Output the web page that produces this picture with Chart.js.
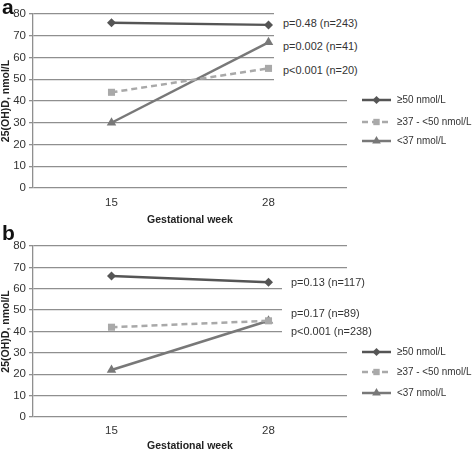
<!DOCTYPE html>
<html>
<head>
<meta charset="utf-8">
<script src="https://cdn.jsdelivr.net/npm/chart.js@4/dist/chart.umd.min.js"></script>
<style>
  html, body { margin: 0; padding: 0; background: #fff; }
  #wrap { position: relative; width: 472px; height: 451px; overflow: hidden; font-family: "Liberation Sans", Arial, sans-serif; }
  canvas { position: absolute; left: 0; }
  .panel-label { position: absolute; left: 2px; font: bold 21px "Liberation Sans", Arial, sans-serif; color: #111; line-height: 1; }
  .notes { position: absolute; background: #fff; }
  .notes div { position: absolute; white-space: nowrap; font-size: 11.5px; color: #333; line-height: 14px; transform: scaleX(0.95); transform-origin: left center; }
</style>
</head>
<body>
<div id="wrap">
  <canvas id="chartA" width="472" height="225" style="top:0"></canvas>
  <canvas id="chartB" width="472" height="226" style="top:225px"></canvas>
  <div class="panel-label" style="top:-4px">a</div>
  <div class="panel-label" style="top:222px">b</div>
  <div class="notes" id="notesA" style="left:274px; top:8px; width:110px; height:76px;"></div>
  <div class="notes" id="notesB" style="left:282px; top:276px; width:120px; height:62px;"></div>
</div>
<script>
const weeks = ["15", "28"];
const seriesLabels = ["\u226550 nmol/L", "\u226537 - <50 nmol/L", "<37 nmol/L"];

// panel a
const aHigh = [76, 75];
const aMid = [44, 55];
const aLow = [30, 67];
const aNotes = ["p=0.48 (n=243)", "p=0.002 (n=41)", "p<0.001 (n=20)"];

// panel b
const bHigh = [66, 63];
const bMid = [42, 45];
const bLow = [22, 45];
const bNotes = ["p=0.13 (n=117)", "p=0.17 (n=89)", "p<0.001 (n=238)"];

const yMin = 0, yMax = 80, yStep = 10;
const yTitle = "25(OH)D, nmol/L";
const xTitle = "Gestational week";

const FONT = "'Liberation Sans', Arial, sans-serif";

const styles = [
  { color: "#555555", dash: [], point: "rectRot", radius: 4.5 },
  { color: "#a9a9a9", dash: [6, 4], point: "rect", radius: 5 },
  { color: "#787878", dash: [], point: "triangle", radius: 5.5 },
];

function makeDatasets(series) {
  return series.map((data, i) => ({
    label: seriesLabels[i],
    data: data,
    borderColor: styles[i].color,
    backgroundColor: styles[i].color,
    borderWidth: 2.5,
    borderDash: styles[i].dash,
    pointStyle: styles[i].point,
    pointRadius: styles[i].radius,
    pointBorderWidth: 0,
    pointBackgroundColor: styles[i].color,
    tension: 0,
  }));
}

// legend: line sample with marker, drawn right of the plot
const sideLegend = {
  id: "sideLegend",
  afterDraw(chart, args, opts) {
    const ctx = chart.ctx;
    ctx.save();
    chart.data.datasets.forEach((ds, i) => {
      const y = opts.rows[i];
      ctx.strokeStyle = ds.borderColor;
      ctx.lineWidth = 2.5;
      ctx.setLineDash(ds.borderDash);
      ctx.beginPath();
      ctx.moveTo(362, y);
      ctx.lineTo(391, y);
      ctx.stroke();
      ctx.setLineDash([]);
      ctx.fillStyle = ds.borderColor;
      Chart.helpers.drawPoint(ctx, { pointStyle: ds.pointStyle, radius: ds.pointRadius - 0.5, rotation: 0, borderWidth: 0 }, 376.5, y);
      ctx.fillStyle = "#333";
      ctx.font = "11.5px " + FONT;
      ctx.textBaseline = "middle";
      const w = ctx.measureText(ds.label).width;
      ctx.fillText(ds.label, 397, y, w * 0.86);
    });
    ctx.restore();
  },
};

function buildChart(canvasId, series, pad, xHeight, tickPad, legendRows) {
  const ctx = document.getElementById(canvasId).getContext("2d");
  return new Chart(ctx, {
    type: "line",
    data: { labels: weeks, datasets: makeDatasets(series) },
    options: {
      responsive: false,
      animation: false,
      layout: { padding: { top: pad, right: 125, bottom: 0, left: 0 } },
      plugins: {
        legend: { display: false },
        tooltip: { enabled: false },
        sideLegend: { rows: legendRows },
      },
      scales: {
        x: {
          offset: true,
          grid: { display: false, drawTicks: false },
          border: { display: false },
          ticks: { color: "#333", font: { family: FONT, size: 11.5 }, padding: tickPad },
          title: {
            display: true,
            text: xTitle,
            color: "#222",
            font: { family: FONT, size: 10.5, weight: "bold" },
            padding: { top: 0, bottom: -1 },
          },
          afterFit(scale) { scale.height = xHeight; },
        },
        y: {
          min: yMin,
          max: yMax,
          ticks: { stepSize: yStep, color: "#333", font: { family: FONT, size: 11.5 }, padding: 3 },
          grid: { color: "#8f8f8f", lineWidth: 1.3, tickLength: 4, drawTicks: true },
          border: { display: true, color: "#8f8f8f", width: 1.3 },
          title: {
            display: true,
            text: yTitle,
            color: "#222",
            font: { family: FONT, size: 10.5, weight: "bold" },
            padding: { top: 0, bottom: 0 },
          },
          afterFit(scale) { scale.width = 33; },
        },
      },
    },
    plugins: [sideLegend],
  });
}

function placeNotes(id, notes, rows, textLeft) {
  const box = document.getElementById(id);
  notes.forEach((t, i) => {
    const d = document.createElement("div");
    d.textContent = t;
    d.style.left = textLeft + "px";
    d.style.top = (rows[i] - 7) + "px";
    box.appendChild(d);
  });
}

buildChart("chartA", [aHigh, aMid, aLow], 14, 37, 8, [100, 122, 141]);
buildChart("chartB", [bHigh, bMid, bLow], 21, 34, 7, [127, 147, 168]);

// note rows are relative to each note box
placeNotes("notesA", aNotes, [15, 38, 62], 9);
placeNotes("notesB", bNotes, [6, 37, 55], 9);
</script>
</body>
</html>
